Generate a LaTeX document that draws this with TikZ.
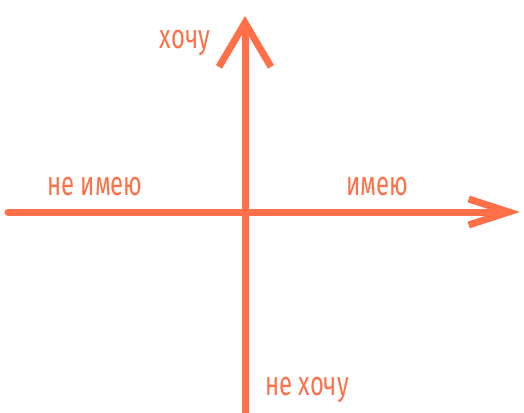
\documentclass[tikz,border=0pt]{standalone}
\usepackage{fontspec}
\setmainfont{Fira Sans}[FakeStretch=0.7]
\usepackage{xcolor}
\usetikzlibrary{arrows.meta}
\definecolor{axiscol}{RGB}{255,112,72}
\tikzset{axis/.style={draw=axiscol,line width=7pt,line cap=round},
  lbl/.style={text=axiscol,font=\fontsize{34}{36}\selectfont,inner sep=0pt}}
\begin{document}
\begin{tikzpicture}[x=1pt,y=-1pt]
\useasboundingbox (0,0) rectangle (524,412);
\coordinate (west) at (8,212);
\coordinate (east) at (520,212);
\coordinate (south) at (245,414);
\coordinate (north) at (245,16);
\draw[axis,-{Straight Barb[length=44pt,width=52pt,line width=7pt]}] (south) -- (north);
\draw[axis,-{Straight Barb[length=40pt,width=26pt,line width=7pt]}] (west) -- (east);
\node[lbl] (want) at (185,43) {хочу};
\node[lbl] (nothave) at (95,187) {не имею};
\node[lbl] (have) at (377,187) {имею};
\node[lbl] (notwant) at (307,390) {не хочу};
\end{tikzpicture}
\end{document}
